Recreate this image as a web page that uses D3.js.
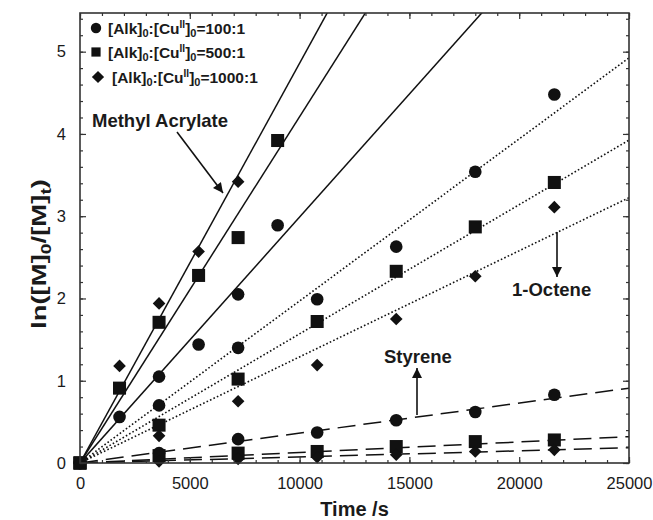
<!DOCTYPE html>
<html lang="en">
<head>
<meta charset="utf-8">
<title>ln([M]0/[M]t) vs time</title>
<script src="https://d3js.org/d3.v7.min.js"></script>
<style>
  body { margin: 0; background: #fff; }
  svg text { font-family: "Liberation Sans", Arial, sans-serif; fill: #1a1a1a; }
</style>
</head>
<body>
<div id="chart"></div>
<script>
// values (time in s, ln([M]0/[M]t))
const maTimes = [0, 1800, 3600, 5400, 7200, 9000];
const ma100 = [0, 0.56, 1.05, 1.44, 2.05, 2.89];
const ma500 = [0, 0.91, 1.71, 2.28, 2.74, 3.92];
const ma1000 = [0, 1.18, 1.94, 2.57, 3.42];

const otherTimes = [0, 3600, 7200, 10800, 14400, 18000, 21600];
const oct100 = [0, 0.70, 1.40, 1.99, 2.63, 3.54, 4.48];
const oct500 = [0, 0.46, 1.02, 1.72, 2.33, 2.87, 3.41];
const oct1000 = [0, 0.33, 0.75, 1.19, 1.75, 2.27, 3.11];

const sty100 = [0, 0.12, 0.29, 0.37, 0.52, 0.62, 0.83];
const sty500 = [0, 0.09, 0.12, 0.14, 0.20, 0.26, 0.28];
const sty1000 = [0, 0.02, 0.05, 0.07, 0.10, 0.14, 0.16];

// slopes of the fitted lines through the origin (per s)
const maSlopes = [2.99e-4, 4.21e-4, 4.86e-4];
const octSlopes = [1.97e-4, 1.57e-4, 1.29e-4];
const stySlopes = [3.64e-5, 1.28e-5, 0.74e-5];

const ratioLabels = ["100:1", "500:1", "1000:1"];
const xTicks = [0, 5000, 10000, 15000, 20000, 25000];
const yTicks = [0, 1, 2, 3, 4, 5];

const W = 653, H = 520;
const pLeft = 80, pRight = 629, pTop = 13, pBottom = 463;

const svg = d3.select("#chart").append("svg")
  .attr("width", W).attr("height", H);

const x = d3.scaleLinear().domain([0, 25000]).range([pLeft, pRight]);
const y = d3.scaleLinear().domain([0, 5.47]).range([pBottom, pTop]);

svg.append("clipPath").attr("id", "plot")
  .append("rect").attr("x", pLeft).attr("y", pTop)
  .attr("width", pRight - pLeft).attr("height", pBottom - pTop);

// fitted lines
const lineStyles = { solid: null, dot: "1.6,2.2", dash: "18,8" };
function fitLine(slope, style) {
  const pts = [[0, 0], [25000, slope * 25000]];
  svg.append("path")
    .attr("clip-path", "url(#plot)")
    .attr("d", d3.line().x(d => x(d[0])).y(d => y(d[1]))(pts))
    .attr("fill", "none")
    .attr("stroke", "#111")
    .attr("stroke-width", style === "dot" ? 1.6 : 1.5)
    .attr("stroke-dasharray", lineStyles[style]);
}
maSlopes.forEach(s => fitLine(s, "solid"));
octSlopes.forEach(s => fitLine(s, "dot"));
stySlopes.forEach(s => fitLine(s, "dash"));

// markers: circle, square, diamond (= square turned 45deg)
const shapes = [d3.symbolCircle, d3.symbolSquare, d3.symbolSquare];
const turns = [0, 0, 45];
const sizes = [125, 170, 80];
function points(times, vals, k) {
  svg.append("g").selectAll("path")
    .data(vals.map((v, i) => [times[i], v]))
    .join("path")
    .attr("transform", d => `translate(${x(d[0])},${y(d[1])}) rotate(${turns[k]})`)
    .attr("d", d3.symbol(shapes[k], sizes[k]))
    .attr("fill", "#111");
}
[sty100, sty500, sty1000].forEach((s, k) => points(otherTimes, s, k));
[oct100, oct500, oct1000].forEach((s, k) => points(otherTimes, s, k));
[ma100, ma500, ma1000].forEach((s, k) => points(maTimes, s, k));

// axes, ticks inward on all four sides
const xMinor = d3.range(0, 25001, 1000);
const yMinor = d3.range(0, 5.41, 0.2);
function axis(gen, pos, vals, size, labels) {
  const a = gen.tickValues(vals).tickSize(-size).tickPadding(14)
    .tickFormat(labels ? d3.format("d") : "");
  const g = svg.append("g").attr("transform", pos).call(a);
  g.select(".domain").remove();
  g.selectAll("line").attr("stroke", "#333").attr("stroke-width", 1.2);
  g.selectAll("text").attr("font-size", 16.5).attr("fill", "#1a1a1a")
    .style("font-family", "'Liberation Sans', Arial, sans-serif");
  return g;
}
axis(d3.axisBottom(x), `translate(0,${pBottom})`, xMinor, 3, false);
axis(d3.axisBottom(x), `translate(0,${pBottom})`, xTicks, 6, true);
axis(d3.axisTop(x), `translate(0,${pTop})`, xMinor, 3, false);
axis(d3.axisTop(x), `translate(0,${pTop})`, xTicks, 6, false);
axis(d3.axisLeft(y), `translate(${pLeft},0)`, yMinor, 3, false);
axis(d3.axisLeft(y), `translate(${pLeft},0)`, yTicks, 6, true);
axis(d3.axisRight(y), `translate(${pRight},0)`, yMinor, 3, false);
axis(d3.axisRight(y), `translate(${pRight},0)`, yTicks, 6, false);

svg.append("rect")
  .attr("x", pLeft).attr("y", pTop)
  .attr("width", pRight - pLeft).attr("height", pBottom - pTop)
  .attr("fill", "none").attr("stroke", "#333").attr("stroke-width", 1.6);

// axis titles
svg.append("text")
  .attr("x", (pLeft + pRight) / 2).attr("y", 516)
  .attr("text-anchor", "middle")
  .attr("font-size", 20).attr("font-weight", "bold")
  .text("Time /s");

const yt = svg.append("text")
  .attr("transform", "translate(46,254) rotate(-90)")
  .attr("text-anchor", "middle")
  .attr("textLength", 150).attr("lengthAdjust", "spacingAndGlyphs")
  .attr("font-size", 20).attr("font-weight", "bold");
yt.append("tspan").text("ln([M]");
yt.append("tspan").attr("font-size", 14).attr("dy", 5).text("0");
yt.append("tspan").attr("dy", -5).text("/[M]");
yt.append("tspan").attr("font-size", 14).attr("dy", 5).text("t");
yt.append("tspan").attr("dy", -5).text(")");

// legend
const legY = [28, 52, 77];
const legX = [96, 96, 98];
ratioLabels.forEach((lab, k) => {
  svg.append("path")
    .attr("transform", `translate(${legX[k]},${legY[k]}) rotate(${turns[k]})`)
    .attr("d", d3.symbol(shapes[k], [85, 85, 75][k]))
    .attr("fill", "#111");
  const t = svg.append("text")
    .attr("x", k === 2 ? 112 : 108).attr("y", legY[k] + 5.5)
    .attr("font-size", 15.5).attr("font-weight", "bold");
  t.append("tspan").text("[Alk]");
  t.append("tspan").attr("font-size", 11).attr("dy", 3).text("0");
  t.append("tspan").attr("dy", -3).text(":[Cu");
  t.append("tspan").attr("font-size", 10).attr("dy", -6).text("II");
  t.append("tspan").attr("dy", 6).text("]");
  t.append("tspan").attr("font-size", 11).attr("dy", 3).text("0");
  t.append("tspan").attr("dy", -3).text("=" + lab);
});

// annotations with arrows
svg.append("defs").append("marker")
  .attr("id", "head").attr("viewBox", "0 0 10 10")
  .attr("refX", 10).attr("refY", 5)
  .attr("markerWidth", 12).attr("markerHeight", 10)
  .attr("markerUnits", "userSpaceOnUse")
  .attr("orient", "auto")
  .append("path").attr("d", "M0,0L10,5L0,10Z").attr("fill", "#111");

function note(label, tx, ty, from, to) {
  svg.append("text").attr("x", tx).attr("y", ty)
    .attr("font-size", 18.5).attr("font-weight", "bold").text(label);
  svg.append("line")
    .attr("x1", from[0]).attr("y1", from[1])
    .attr("x2", to[0]).attr("y2", to[1])
    .attr("stroke", "#111").attr("stroke-width", 1.6)
    .attr("marker-end", "url(#head)");
}
note("Methyl Acrylate", 92, 127, [177, 132], [223, 193]);
note("1-Octene", 512, 296, [557, 232], [557, 277]);
note("Styrene", 384, 363, [417, 415], [417, 368]);
</script>
</body>
</html>
